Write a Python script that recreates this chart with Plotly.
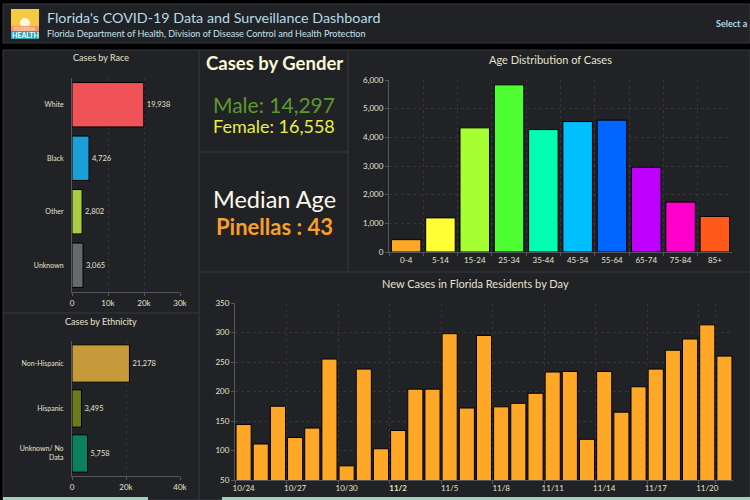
import plotly.graph_objects as go

# data
race_labels = ["White", "Black", "Other", "Unknown"]
race_values = [19938, 4726, 2802, 3065]
race_colors = ["#ef5358", "#1a9fd8", "#a9cd45", "#67686b"]

ethnicity_labels = ["Non-Hispanic", "Hispanic", "Unknown/ No<br>Data"]
ethnicity_values = [21278, 3495, 5758]
ethnicity_colors = ["#c59a3a", "#6b7a1a", "#0b7f5e"]

age_labels = ["0-4", "5-14", "15-24", "25-34", "35-44", "45-54", "55-64", "65-74", "75-84", "85+"]
age_values = [430, 1190, 4330, 5830, 4270, 4550, 4600, 2960, 1740, 1240]
age_colors = ["#ffa726", "#ffff33", "#a6ff33", "#4dff33", "#00ffb3",
              "#00bfff", "#0066ff", "#bf00ff", "#ff00cc", "#ff5a19"]

day_labels = ["10/24", "10/25", "10/26", "10/27", "10/28", "10/29", "10/30", "10/31",
              "11/1", "11/2", "11/3", "11/4", "11/5", "11/6", "11/7", "11/8", "11/9",
              "11/10", "11/11", "11/12", "11/13", "11/14", "11/15", "11/16", "11/17",
              "11/18", "11/19", "11/20", "11/21"]
day_values = [144, 111, 175, 122, 138, 255, 74, 238, 103, 134, 204, 204, 298, 172, 295,
              174, 180, 197, 233, 234, 119, 234, 165, 208, 238, 270, 289, 313, 260]
day_ticks = ["10/24", "10/27", "10/30", "11/2", "11/5", "11/8", "11/11", "11/14", "11/17", "11/20"]

W, H = 750, 500
FONT = "Lato"
TXT = "#e6e2cc"
PANEL = "#212226"
LINE = "#55565c"
SEP = "#38393e"
GRID = "rgba(255,255,255,0.09)"


def dom_x(a, b):
    return [a / W, b / W]


def dom_y(top, bottom):
    return [1 - bottom / H, 1 - top / H]


def axis_style(**kw):
    # automargin off, otherwise the tick labels shrink the paper area
    base = dict(automargin=False, showline=True, linecolor=LINE, linewidth=1, showgrid=True,
                gridcolor=GRID, griddash="dot", gridwidth=1, zeroline=False, ticks="outside",
                ticklen=3, tickcolor=LINE, tickangle=0, tickfont=dict(family=FONT, size=8, color=TXT))
    base.update(kw)
    return base


def cat_axis(**kw):
    return axis_style(autorange="reversed", ticklen=6, tickcolor="rgba(0,0,0,0)", showgrid=False,
                      tickfont=dict(family=FONT, size=7, color=TXT), **kw)


fig = go.Figure()

fig.add_trace(go.Bar(x=race_values, y=race_labels, orientation="h", xaxis="x", yaxis="y",
                     marker=dict(color=race_colors, line=dict(color="#000000", width=1)),
                     text=[f"{v:,}" for v in race_values], textposition="outside", cliponaxis=False,
                     textfont=dict(family=FONT, size=7.5, color=TXT)))
fig.add_trace(go.Bar(x=ethnicity_values, y=ethnicity_labels, orientation="h", xaxis="x2", yaxis="y2",
                     marker=dict(color=ethnicity_colors, line=dict(color="#000000", width=1)),
                     text=[f"{v:,}" for v in ethnicity_values], textposition="outside", cliponaxis=False,
                     textfont=dict(family=FONT, size=7.5, color=TXT)))
fig.add_trace(go.Bar(x=age_labels, y=age_values, xaxis="x3", yaxis="y3", width=0.86,
                     marker=dict(color=age_colors, line=dict(color="#000000", width=1))))
fig.add_trace(go.Bar(x=day_labels, y=day_values, xaxis="x4", yaxis="y4", width=0.88,
                     marker=dict(color="#ffa726", line=dict(color="#000000", width=1))))

# panels behind the charts
shapes = []
for x0, y0, x1, y1 in [(3, 4, 750, 43), (3, 50, 750, 500)]:
    shapes.append(dict(type="rect", xref="paper", yref="paper", x0=x0 / W, x1=x1 / W,
                       y0=1 - y1 / H, y1=1 - y0 / H, fillcolor=PANEL,
                       line=dict(color=SEP, width=1), layer="below"))
# thin separators between the panels
for x0, y0, x1, y1 in [(199, 50, 199, 500), (348, 50, 348, 272), (199, 152, 348, 152),
                       (199, 272, 750, 272), (3, 313, 199, 313)]:
    shapes.append(dict(type="line", xref="paper", yref="paper", x0=x0 / W, x1=x1 / W,
                       y0=1 - y1 / H, y1=1 - y0 / H, line=dict(color=SEP, width=1), layer="below"))
# logo blocks and the strip along the bottom edge
for x0, y0, x1, y1, col, kind in [(11, 9, 39, 27, "#f6c945", "rect"), (20, 18, 30, 28, "#fff6d8", "circle"),
                                  (11, 26, 39, 31, "#ee9a6a", "rect"), (11, 31, 39, 39, "#2f9fb0", "rect"),
                                  (3, 497, 148, 500, "#9fd0c0", "rect"), (222, 497, 750, 500, "#9fd0c0", "rect")]:
    shapes.append(dict(type=kind, xref="paper", yref="paper", x0=x0 / W, x1=x1 / W,
                       y0=1 - y1 / H, y1=1 - y0 / H, fillcolor=col, line=dict(width=0)))


def label(text, x, y, size, color=TXT, anchor="center"):
    return dict(text=text, x=x / W, y=1 - y / H, xref="paper", yref="paper", showarrow=False,
                xanchor=anchor, yanchor="middle", font=dict(family=FONT, size=size, color=color))


annotations = [
    label("Florida's COVID-19 Data and Surveillance Dashboard", 45, 17, 14.3, "#b5dbe6", "left"),
    label("Florida Department of Health, Division of Disease Control and Health Protection", 45, 33, 9.05, "#c5e3ec", "left"),
    label("<b>Select a</b>", 714, 23, 9, "#b5dbe6", "left"),
    label("<b>FLORIDA</b>", 25, 28.5, 5, "#f7dfc0"),
    label("<b>HEALTH</b>", 25, 35, 7, "#ffffff"),
    label("Cases by Race", 101, 58, 9),
    label("Cases by Ethnicity", 101, 321, 9),
    label("Age Distribution of Cases", 550, 59, 11),
    label("New Cases in Florida Residents by Day", 475, 283, 11),
    label("<b>Cases by Gender</b>", 274, 63, 18.5, "#fdf8d8"),
    label("Male: 14,297", 274, 105, 21, "#5b9a2b"),
    label("Female: 16,558", 274, 126, 18, "#e8ef4a"),
    label("Median Age", 274, 199, 23.5, "#fbf8e8"),
    label("<b>Pinellas : 43</b>", 274, 227, 22, "#f7a02a"),
]

day_ticktext = [f"<b>{t}</b>" if t == "11/2" else t for t in day_ticks]

fig.update_layout(
    width=W, height=H, margin=dict(l=0, r=0, t=0, b=0), autosize=False,
    paper_bgcolor="#000000", plot_bgcolor="rgba(0,0,0,0)", showlegend=False,
    shapes=shapes, annotations=annotations,
    xaxis=axis_style(domain=dom_x(72, 180), range=[0, 30000], tickvals=[0, 10000, 20000, 30000],
                     ticktext=["0", "10k", "20k", "30k"], anchor="y"),
    yaxis=cat_axis(domain=dom_y(78, 292), anchor="x"),
    xaxis2=axis_style(domain=dom_x(72, 180), range=[0, 40000], tickvals=[0, 20000, 40000],
                      ticktext=["0", "20k", "40k"], anchor="y2"),
    yaxis2=cat_axis(domain=dom_y(341, 476), anchor="x2"),
    xaxis3=axis_style(domain=dom_x(389, 732), anchor="y3", tickson="boundaries"),
    yaxis3=axis_style(domain=dom_y(80, 252), range=[0, 6000], dtick=1000, tickformat=",", anchor="x3"),
    xaxis4=axis_style(domain=dom_x(235, 733), anchor="y4", tickson="boundaries",
                      tickvals=day_ticks, ticktext=day_ticktext),
    yaxis4=axis_style(domain=dom_y(303, 480), range=[50, 350], dtick=50, anchor="x4"),
    bargap=0.17,
)

fig.write_html("out.html", config=dict(displayModeBar=False),
               post_script="document.body.style.margin='0';document.body.style.overflow='hidden';")
